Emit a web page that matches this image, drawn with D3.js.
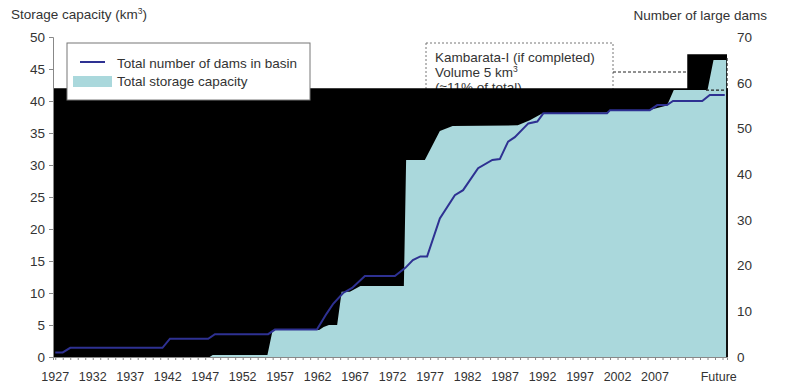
<!DOCTYPE html>
<html lang="en">
<head>
<meta charset="UTF-8">
<title>Storage capacity and number of large dams</title>
<script src="https://d3js.org/d3.v7.min.js"></script>
<style>
  body { margin: 0; background: #fff; }
  text { font-family: "Liberation Sans", Arial, sans-serif; fill: #333; }
</style>
</head>
<body>
<svg width="800" height="392"></svg>
<script>
// --- data ---
// total storage capacity, km3 (left axis)
const storageYears = [1927, 1947.6, 1948, 1955.3, 1956, 1962.2, 1962.8, 1963.5, 1964.6, 1965.2, 1966.3, 1967.7, 1973.5, 1973.8, 1976.3, 1978.3, 1980, 1988.7, 1990.3, 1992, 2000.5, 2001, 2006, 2008.6, 2009.5, 2014, 2014.8, 2016.5];
const storageValues = [0, 0, 0.3, 0.3, 4.2, 4.2, 4.7, 5.0, 5.0, 10.2, 10.2, 11.1, 11.1, 30.8, 30.8, 35.3, 36.1, 36.2, 37.0, 38.1, 38.2, 38.5, 38.5, 39.3, 41.7, 41.7, 46.4, 46.4];

// total number of dams in basin (right axis)
const damYears = [1927, 1928, 1929, 1941.3, 1942.3, 1947.4, 1948.3, 1955.4, 1956.3, 1961.9, 1963.2, 1964.1, 1965.4, 1966.6, 1968.3, 1972.3, 1973.7, 1974.7, 1975.7, 1976.6, 1978.3, 1980.3, 1981.4, 1983.4, 1985.3, 1986.3, 1987.4, 1988.3, 1990.1, 1991.3, 1992.1, 2000.6, 2001, 2006.3, 2007.3, 2008.6, 2009.4, 2013.3, 2014.3, 2016.3];
const damValues = [1, 1, 2, 2, 4, 4, 5, 5, 6, 6, 9.5, 11.7, 14, 15.1, 17.7, 17.7, 19.5, 21.2, 22, 22, 30.3, 35.4, 36.5, 41.3, 43.1, 43.3, 47.1, 48.1, 51.1, 51.5, 53.3, 53.3, 54, 54, 55.1, 55.1, 56, 56, 57.3, 57.3];

// dark backdrop as it appears in the picture (left-axis units)
const backdropYears = [1926.7, 2011.3, 2011.3, 2016.6];
const backdropValues = [42, 42, 47.3, 47.3];

const yearTicks = [1927, 1932, 1937, 1942, 1947, 1952, 1957, 1962, 1967, 1972, 1977, 1982, 1987, 1992, 1997, 2002, 2007];
const futureYear = 2015.5;
const leftTicks = [0, 5, 10, 15, 20, 25, 30, 35, 40, 45, 50];
const rightTicks = [0, 10, 20, 30, 40, 50, 60, 70];
const kambarataLines = ["Kambarata-I (if completed)", "Volume 5 km³", "(≈11% of total)"];
const currentLevel = 41.7, futureLevel = 46.4;

// --- scales ---
const svg = d3.select("svg");
const x = d3.scaleLinear().domain([1926.7, 2016.6]).range([53, 727]);
const yL = d3.scaleLinear().domain([0, 50]).range([357, 37]);
const yR = d3.scaleLinear().domain([0, 70]).range([357, 37]);
const fs = 13.5;

// annotation box (sits under the dark backdrop)
const ann = svg.append("g");
ann.append("rect")
    .attr("x", 426).attr("y", 43).attr("width", 187).attr("height", 60)
    .attr("fill", "#fff").attr("stroke", "#777").attr("stroke-dasharray", "2,2");
ann.selectAll("text").data(kambarataLines).enter().append("text")
    .attr("x", 435).attr("y", (d, i) => 62 + i * 15)
    .attr("font-size", fs)
    .html(d => d === "Volume 5 km³" ? "Volume 5 km<tspan font-size='8.5' dy='-5'>3</tspan>" : d);
svg.append("line")
    .attr("x1", 613).attr("x2", x(2011.3)).attr("y1", 72).attr("y2", 72)
    .attr("stroke", "#222").attr("stroke-dasharray", "3,2");

// dark backdrop
const backdrop = backdropYears.map((d, i) => [d, backdropValues[i]]);
svg.append("path")
    .datum(backdrop)
    .attr("fill", "#000")
    .attr("d", d3.area().x(d => x(d[0])).y0(yL(0)).y1(d => yL(d[1])).curve(d3.curveStepAfter));

// storage area
const storage = storageYears.map((d, i) => [d, storageValues[i]]);
svg.append("path")
    .datum(storage)
    .attr("fill", "#aad8dc")
    .attr("d", d3.area().x(d => x(d[0])).y0(yL(0)).y1(d => yL(d[1])));

// dashed outline of the future block
svg.append("path")
    .attr("fill", "none").attr("stroke", "#222").attr("stroke-width", 1.2).attr("stroke-dasharray", "3,2")
    .attr("d", `M${x(2013.8)},${yL(currentLevel)}H${x(2016.6)}V${yL(futureLevel) - 2}`);

// dams line
const dams = damYears.map((d, i) => [d, damValues[i]]);
svg.append("path")
    .datum(dams)
    .attr("fill", "none")
    .attr("stroke", "#2e3192")
    .attr("stroke-width", 2)
    .attr("d", d3.line().x(d => x(d[0])).y(d => yR(d[1])));

// left axis
const gL = svg.append("g").attr("transform", "translate(53,0)")
    .call(d3.axisLeft(yL).tickValues(leftTicks).tickSize(4).tickPadding(4));
gL.select(".domain").attr("stroke", "#888");
gL.selectAll(".tick line").attr("stroke", "#888");
gL.selectAll("text").attr("font-size", fs).attr("fill", "#333").attr("font-family", null);

// right axis
const gR = svg.append("g").attr("transform", "translate(727,0)")
    .call(d3.axisRight(yR).tickValues(rightTicks).tickSize(0).tickPadding(10));
gR.select(".domain").remove();
gR.selectAll("text").attr("font-size", fs).attr("fill", "#333").attr("font-family", null);
svg.append("line")
    .attr("x1", 727).attr("x2", 727).attr("y1", yR(0)).attr("y2", yL(42))
    .attr("stroke", "#111").attr("stroke-width", 2);

// bottom axis: a small tick every year, labels every five years
const gB = svg.append("g").attr("transform", "translate(0,357)")
    .call(d3.axisBottom(x).tickValues(d3.range(1927, 2017)).tickSize(3).tickFormat(""));
gB.select(".domain").attr("stroke", "#888");
gB.selectAll(".tick line").attr("stroke", "#888");
const labels = yearTicks.map(String).concat(["Future"]);
const labelYears = yearTicks.concat([futureYear]);
svg.selectAll("text.xl").data(labels).enter().append("text")
    .attr("class", "xl")
    .attr("x", (d, i) => x(labelYears[i]))
    .attr("y", 381)
    .attr("text-anchor", "middle")
    .attr("font-size", 12.5)
    .text(d => d);

// axis titles
svg.append("text").attr("x", 11).attr("y", 19).attr("font-size", fs)
    .html("Storage capacity (km<tspan font-size='8.5' dy='-5'>3</tspan><tspan dy='5'>)</tspan>");
svg.append("text").attr("x", 767).attr("y", 20).attr("font-size", fs)
    .attr("text-anchor", "end").text("Number of large dams");

// legend
const lg = svg.append("g");
lg.append("rect").attr("x", 67).attr("y", 43).attr("width", 243).attr("height", 57)
    .attr("fill", "#fff").attr("stroke", "#777");
lg.append("line").attr("x1", 80).attr("x2", 105).attr("y1", 62).attr("y2", 62)
    .attr("stroke", "#2e3192").attr("stroke-width", 2);
lg.append("rect").attr("x", 73).attr("y", 76).attr("width", 39).attr("height", 11).attr("fill", "#aad8dc");
lg.append("text").attr("x", 117).attr("y", 67.5).attr("font-size", fs).text("Total number of dams in basin");
lg.append("text").attr("x", 117).attr("y", 85.5).attr("font-size", fs).text("Total storage capacity");
</script>
</body>
</html>
